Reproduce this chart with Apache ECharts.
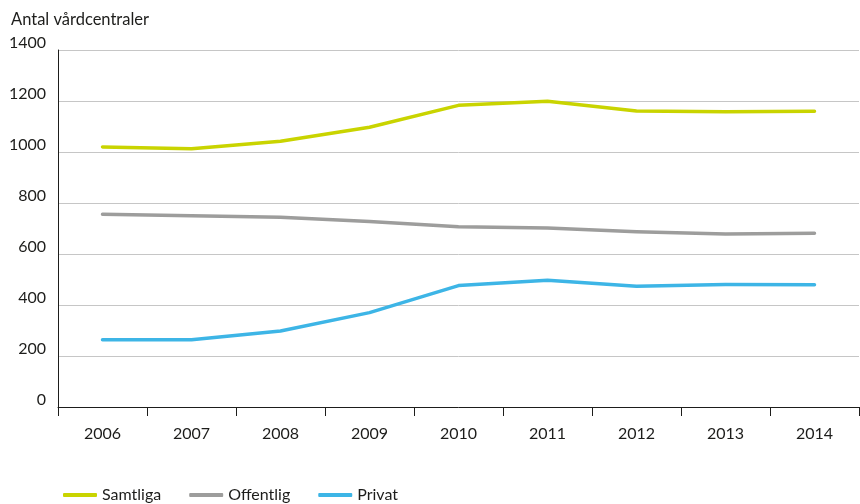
<!DOCTYPE html>
<html>
<head>
<meta charset="utf-8">
<script src="https://cdn.jsdelivr.net/npm/echarts@6/dist/echarts.min.js"></script>
<style>
  html, body { margin: 0; padding: 0; background: #fff; }
  #chart { width: 860px; height: 504px; }
</style>
</head>
<body>
<div id="chart"></div>
<script>
// Number of primary care centres (vårdcentraler) per year, by ownership
const years = ['2006', '2007', '2008', '2009', '2010', '2011', '2012', '2013', '2014'];
const samtliga = [1020, 1013, 1042, 1097, 1183, 1199, 1161, 1158, 1160];
const offentlig = [756, 750, 744, 727, 707, 702, 687, 678, 681];
const privat = [264, 264, 298, 370, 476, 497, 474, 480, 479];

const FONT = 'Lato, "Open Sans", sans-serif';
const TEXT = '#1d1d1b';

const chart = echarts.init(document.getElementById('chart'), null, { renderer: 'canvas' });

function lineSeries(name, data, color) {
  return {
    name: name,
    type: 'line',
    data: data,
    symbol: 'none',
    lineStyle: { color: color, width: 3.5, cap: 'round', join: 'round' },
    itemStyle: { color: color },
    z: 3
  };
}

chart.setOption({
  animation: false,
  backgroundColor: '#fff',
  title: {
    text: 'Antal vårdcentraler',
    left: 6,
    top: 6,
    textStyle: { fontFamily: FONT, fontSize: 16.5, fontWeight: 'normal', color: TEXT }
  },
  grid: { left: 58, right: 1, top: 50, bottom: 97, containLabel: false },
  legend: {
    left: 58,
    top: 482,
    itemWidth: 34,
    itemHeight: 4,
    itemGap: 28,
    icon: 'roundRect',
    textStyle: { fontFamily: FONT, fontSize: 16, color: TEXT },
    data: ['Samtliga', 'Offentlig', 'Privat']
  },
  xAxis: {
    type: 'category',
    data: years,
    boundaryGap: true,
    axisLine: { show: true, lineStyle: { color: '#1d1d1b', width: 1 } },
    axisTick: { show: true, length: 9, interval: 0, lineStyle: { color: '#1d1d1b' } },
    axisLabel: { margin: 19, fontFamily: FONT, fontSize: 16, color: TEXT, interval: 0 },
    splitLine: { show: false }
  },
  yAxis: {
    type: 'value',
    min: 0,
    max: 1400,
    interval: 200,
    axisLine: { show: true, lineStyle: { color: '#1d1d1b', width: 1 } },
    axisTick: { show: false },
    axisLabel: {
      margin: 12,
      fontFamily: FONT,
      fontSize: 16,
      color: TEXT,
      verticalAlign: 'bottom',
      lineHeight: 14,
      formatter: function (v) { return String(v); }
    },
    splitLine: { show: true, lineStyle: { color: '#c6c6c6', width: 1 } }
  },
  series: [
    lineSeries('Samtliga', samtliga, '#c9d400'),
    lineSeries('Offentlig', offentlig, '#9d9d9c'),
    lineSeries('Privat', privat, '#3db5e6')
  ]
});
</script>
</body>
</html>
